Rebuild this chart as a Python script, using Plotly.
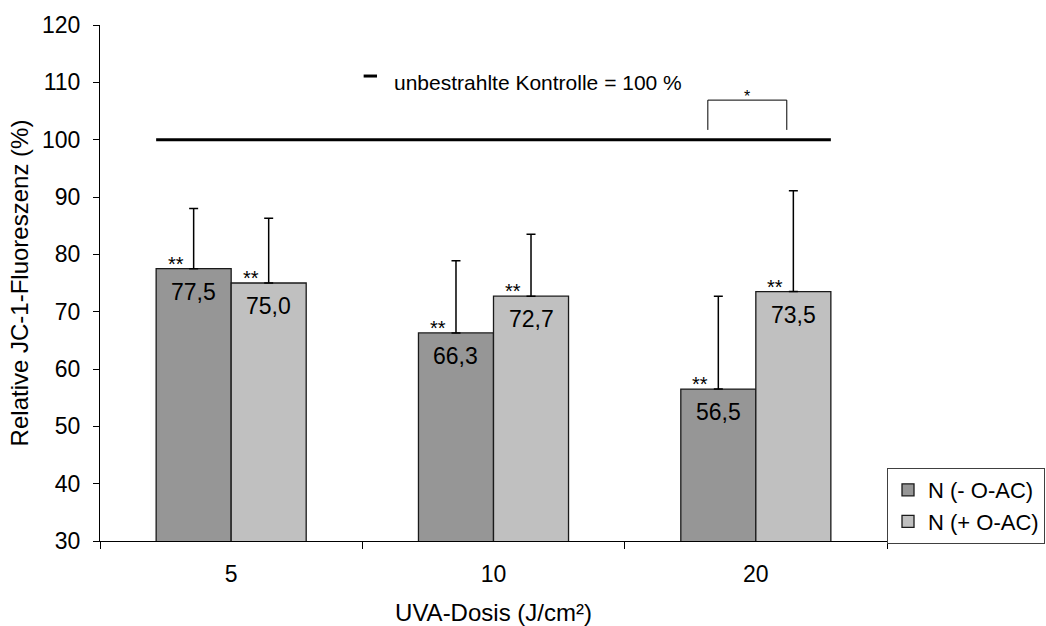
import plotly.graph_objects as go

# UVA dose groups and JC-1 fluorescence relative to the unirradiated control
doses = ["5", "10", "20"]
minus_oac = [77.5, 66.3, 56.5]
plus_oac = [75.0, 72.7, 73.5]
minus_err = [10.5, 12.6, 16.2]
plus_err = [11.3, 10.8, 17.6]
minus_sig = ["**", "**", "**"]
plus_sig = ["**", "**", "**"]
series_names = ["N (- O-AC)", "N (+ O-AC)"]
control_value = 100
control_label = "unbestrahlte Kontrolle = 100 %"
y_ticks = [30, 40, 50, 60, 70, 80, 90, 100, 110, 120]

FONT = "Arial, Liberation Sans, sans-serif"
DARK = "#969696"
LIGHT = "#c0c0c0"

BAR_W = 0.286          # width of one bar in category units
BARGAP = 1 - 2 * BAR_W


def fmt(v):
    return f"{v:.1f}".replace(".", ",")


fig = go.Figure()
for name, vals, errs, color in [
    (series_names[0], minus_oac, minus_err, DARK),
    (series_names[1], plus_oac, plus_err, LIGHT),
]:
    fig.add_trace(go.Bar(
        x=doses, y=vals, name=name,
        marker=dict(color=color, line=dict(color="#1a1a1a", width=1.3)),
        error_y=dict(type="data", array=errs, arrayminus=[0] * len(errs),
                     symmetric=False, color="black", thickness=1.5, width=4.5),
    ))

annotations = []
# value labels inside bars and significance stars above them
for i in range(len(doses)):
    for vals, sig, off in [(minus_oac, minus_sig, -BAR_W / 2), (plus_oac, plus_sig, BAR_W / 2)]:
        annotations.append(dict(
            x=i + off, y=vals[i], xref="x", yref="y", text=fmt(vals[i]),
            showarrow=False, yanchor="middle", yshift=-23,
            font=dict(family=FONT, size=23, color="black")))
        annotations.append(dict(
            x=i + off, y=vals[i], xref="x", yref="y", text=sig[i],
            showarrow=False, yanchor="middle", xshift=-18, yshift=5,
            font=dict(family=FONT, size=20, color="black")))

# control reference key
annotations.append(dict(
    x=0.371, y=109.9, xref="paper", yref="y", text=control_label,
    showarrow=False, xanchor="left", yanchor="middle",
    font=dict(family=FONT, size=21, color="black")))

# significance bracket between the two 20 J/cm² bars
br_x0, br_x1, br_lo, br_hi = 1.817, 2.118, 101.7, 106.9
annotations.append(dict(
    x=(br_x0 + br_x1) / 2, y=br_hi, xref="x", yref="y", text="*",
    showarrow=False, yanchor="middle", yshift=4,
    font=dict(family=FONT, size=16, color="black")))

shapes = [
    dict(type="line", xref="x", yref="y",
         x0=-BAR_W, x1=len(doses) - 1 + BAR_W, y0=control_value, y1=control_value,
         line=dict(color="black", width=3)),
    dict(type="line", xref="paper", yref="y", x0=0.335, x1=0.352, y0=111.1, y1=111.1,
         line=dict(color="black", width=3)),
    dict(type="path", xref="x", yref="y",
         path=f"M {br_x0},{br_lo} L {br_x0},{br_hi} L {br_x1},{br_hi} L {br_x1},{br_lo}",
         line=dict(color="black", width=1)),
]

fig.update_layout(
    width=1046, height=626,
    margin=dict(l=100, r=159, t=25, b=85, autoexpand=False),
    paper_bgcolor="white", plot_bgcolor="white",
    barmode="group", bargap=BARGAP, bargroupgap=0,
    font=dict(family=FONT, size=23, color="black"),
    showlegend=True,
    legend=dict(xref="container", yref="container", x=0.848, y=0.131,
                xanchor="left", yanchor="bottom",
                bordercolor="#404040", borderwidth=1, bgcolor="white",
                font=dict(family=FONT, size=22, color="black"),
                traceorder="normal", itemwidth=30),
    annotations=annotations,
    shapes=shapes,
    xaxis=dict(type="category", tickson="boundaries", ticks="outside", ticklen=7,
               tickcolor="black", showline=True, linecolor="black", linewidth=1,
               showgrid=False, ticklabelstandoff=12, automargin=False,
               tickfont=dict(family=FONT, size=23),
               title=dict(text="UVA-Dosis (J/cm²)", standoff=19,
                          font=dict(family=FONT, size=24))),
    yaxis=dict(range=[30, 120], tickvals=y_ticks, ticks="outside", ticklen=6,
               tickcolor="black", showline=True, linecolor="black", linewidth=1,
               showgrid=False, zeroline=False, ticklabelstandoff=8, automargin=False,
               tickfont=dict(family=FONT, size=23),
               title=dict(text="Relative JC-1-Fluoreszenz (%)", standoff=6,
                          font=dict(family=FONT, size=24))),
)

fig.write_html("out.html")
